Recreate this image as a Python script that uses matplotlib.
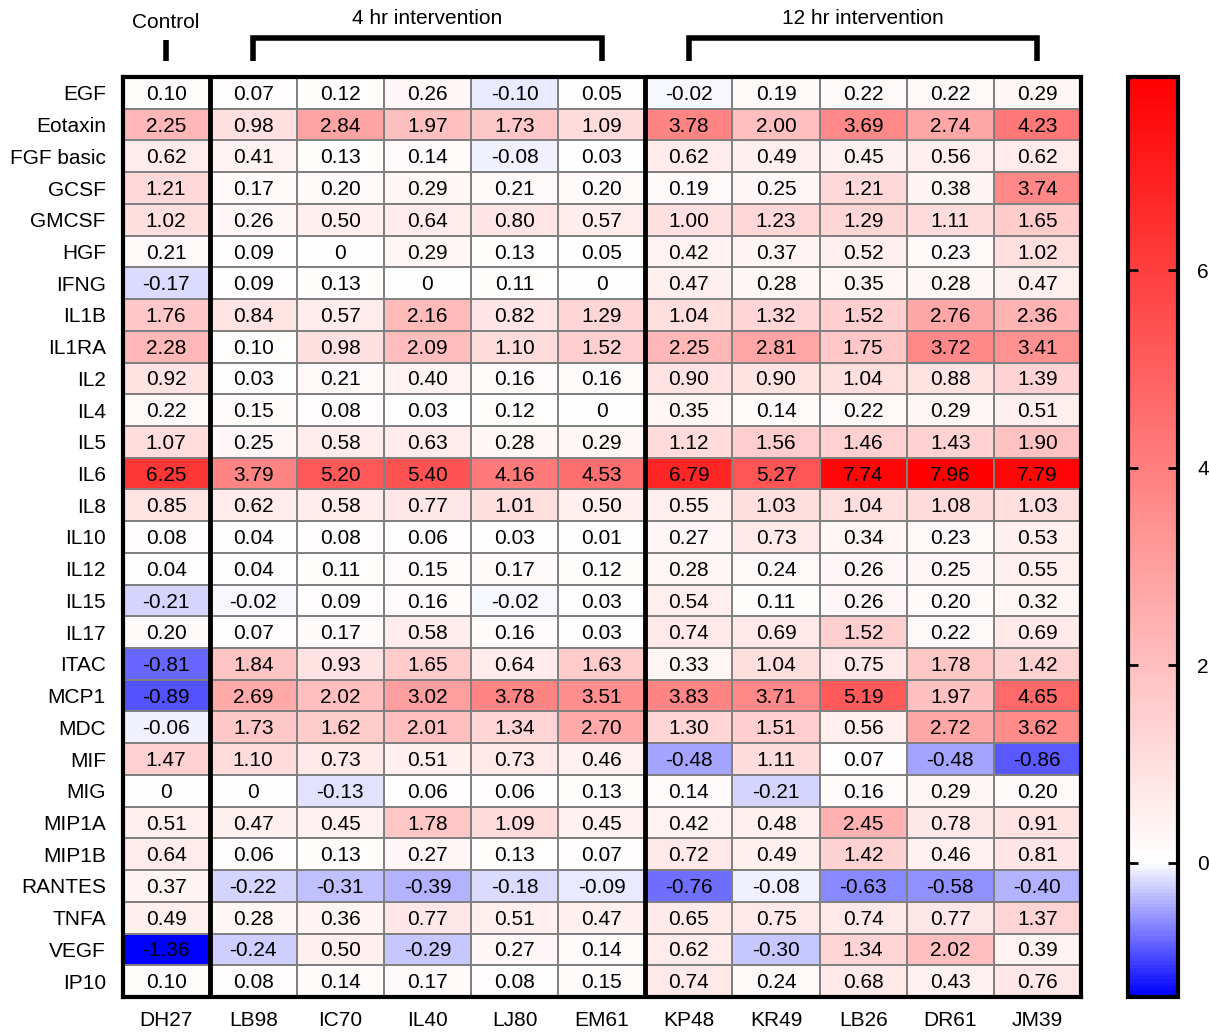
import numpy as np
import matplotlib
matplotlib.use("Agg")
import matplotlib.pyplot as plt
from matplotlib.colors import LinearSegmentedColormap, Normalize

plt.rcParams['font.family'] = ['Liberation Sans', 'DejaVu Sans']

samples = ["DH27", "LB98", "IC70", "IL40", "LJ80", "EM61",
           "KP48", "KR49", "LB26", "DR61", "JM39"]
cytokines = ["EGF", "Eotaxin", "FGF basic", "GCSF", "GMCSF", "HGF", "IFNG",
             "IL1B", "IL1RA", "IL2", "IL4", "IL5", "IL6", "IL8", "IL10", "IL12",
             "IL15", "IL17", "ITAC", "MCP1", "MDC", "MIF", "MIG", "MIP1A",
             "MIP1B", "RANTES", "TNFA", "VEGF", "IP10"]

# log fold change, one row per cytokine, one column per sample
EGF      = [0.10, 0.07, 0.12, 0.26, -0.10, 0.05, -0.02, 0.19, 0.22, 0.22, 0.29]
Eotaxin  = [2.25, 0.98, 2.84, 1.97, 1.73, 1.09, 3.78, 2.00, 3.69, 2.74, 4.23]
FGFbasic = [0.62, 0.41, 0.13, 0.14, -0.08, 0.03, 0.62, 0.49, 0.45, 0.56, 0.62]
GCSF     = [1.21, 0.17, 0.20, 0.29, 0.21, 0.20, 0.19, 0.25, 1.21, 0.38, 3.74]
GMCSF    = [1.02, 0.26, 0.50, 0.64, 0.80, 0.57, 1.00, 1.23, 1.29, 1.11, 1.65]
HGF      = [0.21, 0.09, 0, 0.29, 0.13, 0.05, 0.42, 0.37, 0.52, 0.23, 1.02]
IFNG     = [-0.17, 0.09, 0.13, 0, 0.11, 0, 0.47, 0.28, 0.35, 0.28, 0.47]
IL1B     = [1.76, 0.84, 0.57, 2.16, 0.82, 1.29, 1.04, 1.32, 1.52, 2.76, 2.36]
IL1RA    = [2.28, 0.10, 0.98, 2.09, 1.10, 1.52, 2.25, 2.81, 1.75, 3.72, 3.41]
IL2      = [0.92, 0.03, 0.21, 0.40, 0.16, 0.16, 0.90, 0.90, 1.04, 0.88, 1.39]
IL4      = [0.22, 0.15, 0.08, 0.03, 0.12, 0, 0.35, 0.14, 0.22, 0.29, 0.51]
IL5      = [1.07, 0.25, 0.58, 0.63, 0.28, 0.29, 1.12, 1.56, 1.46, 1.43, 1.90]
IL6      = [6.25, 3.79, 5.20, 5.40, 4.16, 4.53, 6.79, 5.27, 7.74, 7.96, 7.79]
IL8      = [0.85, 0.62, 0.58, 0.77, 1.01, 0.50, 0.55, 1.03, 1.04, 1.08, 1.03]
IL10     = [0.08, 0.04, 0.08, 0.06, 0.03, 0.01, 0.27, 0.73, 0.34, 0.23, 0.53]
IL12     = [0.04, 0.04, 0.11, 0.15, 0.17, 0.12, 0.28, 0.24, 0.26, 0.25, 0.55]
IL15     = [-0.21, -0.02, 0.09, 0.16, -0.02, 0.03, 0.54, 0.11, 0.26, 0.20, 0.32]
IL17     = [0.20, 0.07, 0.17, 0.58, 0.16, 0.03, 0.74, 0.69, 1.52, 0.22, 0.69]
ITAC     = [-0.81, 1.84, 0.93, 1.65, 0.64, 1.63, 0.33, 1.04, 0.75, 1.78, 1.42]
MCP1     = [-0.89, 2.69, 2.02, 3.02, 3.78, 3.51, 3.83, 3.71, 5.19, 1.97, 4.65]
MDC      = [-0.06, 1.73, 1.62, 2.01, 1.34, 2.70, 1.30, 1.51, 0.56, 2.72, 3.62]
MIF      = [1.47, 1.10, 0.73, 0.51, 0.73, 0.46, -0.48, 1.11, 0.07, -0.48, -0.86]
MIG      = [0, 0, -0.13, 0.06, 0.06, 0.13, 0.14, -0.21, 0.16, 0.29, 0.20]
MIP1A    = [0.51, 0.47, 0.45, 1.78, 1.09, 0.45, 0.42, 0.48, 2.45, 0.78, 0.91]
MIP1B    = [0.64, 0.06, 0.13, 0.27, 0.13, 0.07, 0.72, 0.49, 1.42, 0.46, 0.81]
RANTES   = [0.37, -0.22, -0.31, -0.39, -0.18, -0.09, -0.76, -0.08, -0.63, -0.58, -0.40]
TNFA     = [0.49, 0.28, 0.36, 0.77, 0.51, 0.47, 0.65, 0.75, 0.74, 0.77, 1.37]
VEGF     = [-1.36, -0.24, 0.50, -0.29, 0.27, 0.14, 0.62, -0.30, 1.34, 2.02, 0.39]
IP10     = [0.10, 0.08, 0.14, 0.17, 0.08, 0.15, 0.74, 0.24, 0.68, 0.43, 0.76]

data = np.array([EGF, Eotaxin, FGFbasic, GCSF, GMCSF, HGF, IFNG, IL1B, IL1RA,
                 IL2, IL4, IL5, IL6, IL8, IL10, IL12, IL15, IL17, ITAC, MCP1,
                 MDC, MIF, MIG, MIP1A, MIP1B, RANTES, TNFA, VEGF, IP10])

groups = [("Control", 0, 0), ("4 hr intervention", 1, 5), ("12 hr intervention", 6, 10)]
cbar_ticks = [0, 2, 4, 6]

vmin, vmax = data.min(), data.max()
w = (0 - vmin) / (vmax - vmin)
cmap = LinearSegmentedColormap.from_list("bwr0", [(0, "#0000ff"), (w, "#ffffff"), (1, "#ff0000")])
norm = Normalize(vmin, vmax)

W, H = 1209, 1033
fig = plt.figure(figsize=(W / 100, H / 100), dpi=100)

def px_axes(x0, y0, x1, y1):
    return fig.add_axes([x0 / W, 1 - y1 / H, (x1 - x0) / W, (y1 - y0) / H])

ax = px_axes(122.5, 77, 1081, 997)
nr, nc = data.shape
ax.pcolormesh(np.arange(nc + 1), np.arange(nr + 1), data, cmap=cmap, norm=norm,
              edgecolors="#808080", linewidth=1.3)
ax.set_xlim(0, nc)
ax.set_ylim(nr, 0)

for i in range(nr):
    for j in range(nc):
        v = data[i, j]
        s = "0" if v == 0 else f"{v:.2f}"
        ax.text(j + 0.5, i + 0.55, s, ha="center", va="center", fontsize=15)

for sp in ax.spines.values():
    sp.set_linewidth(3)
    sp.set_color("black")
for xb in [1, 6]:
    ax.axvline(xb, color="black", lw=3.5)

ax.set_yticks(np.arange(nr) + 0.5)
ax.set_yticklabels(cytokines, fontsize=15)
ax.set_xticks(np.arange(nc) + 0.5)
ax.set_xticklabels(samples, fontsize=15)
ax.tick_params(length=0)
ax.tick_params(axis="y", pad=12)
ax.tick_params(axis="x", pad=10)

# group brackets above the table
top, leg = -1.23, -0.52
for name, a, b in groups:
    xa, xb = a + 0.5, b + 0.5
    if a == b:
        ax.plot([xa, xa], [top + 0.05, leg], color="black", lw=4, clip_on=False,
                solid_capstyle="butt")
        ty = top - 0.2
    else:
        ax.plot([xa, xa, xb, xb], [leg, top, top, leg], color="black", lw=4,
                clip_on=False, solid_capstyle="butt", solid_joinstyle="miter")
        ty = top - 0.3
    ax.text((xa + xb) / 2, ty, name, ha="center", va="bottom",
            fontsize=15, clip_on=False)

# colour scale
cax = px_axes(1128, 77, 1178, 997)
cb = fig.colorbar(plt.cm.ScalarMappable(norm=norm, cmap=cmap), cax=cax)
cb.outline.set_linewidth(3)
cb.set_ticks(cbar_ticks)
cax.tick_params(direction="in", left=True, right=True, length=7, width=2,
                labelsize=15, pad=14)

fig.savefig("out.png", dpi=100)
